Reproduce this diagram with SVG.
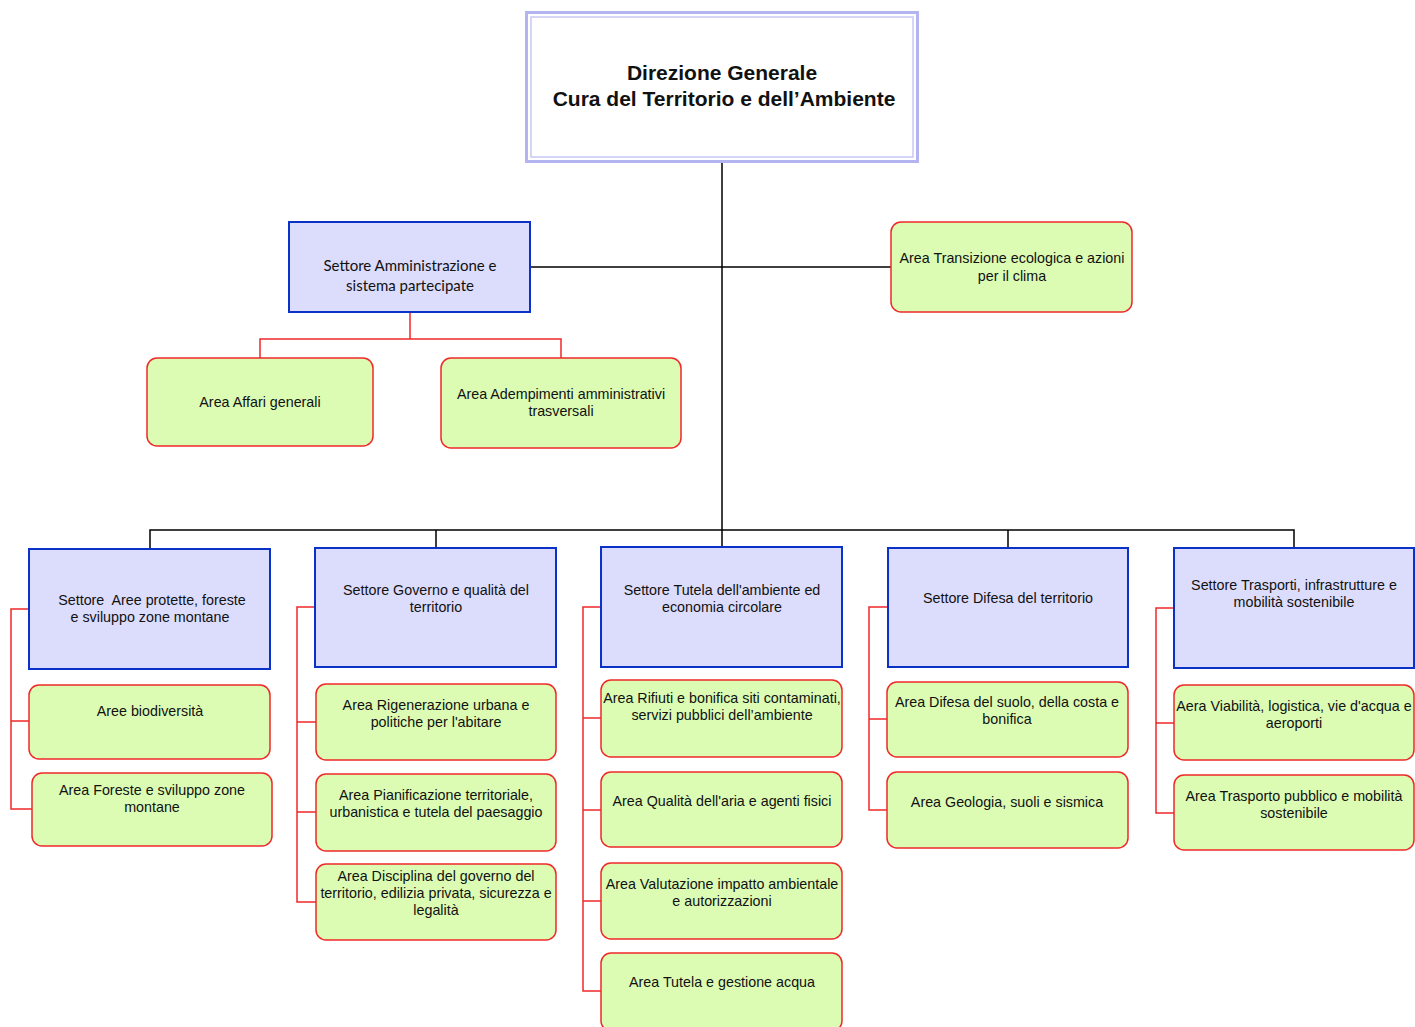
<svg xmlns="http://www.w3.org/2000/svg" width="1415" height="1027" viewBox="0 0 1415 1027">
<style>
text{font-family:"Liberation Sans",Arial,sans-serif;font-size:14.3px;fill:#111;text-anchor:middle}
.t{font-weight:bold;font-size:21px}
.c{font-family:Lato,"Noto Sans",sans-serif;font-size:15px}
.s{fill:#dcdcfc;stroke:#0a32c8;stroke-width:2}
.a{fill:#dcfcb4;stroke:#f02828;stroke-width:1.5}
.k{fill:none;stroke:#000;stroke-width:1.5}
.r{fill:none;stroke:#f02828;stroke-width:1.5}
</style>
<rect width="1415" height="1027" fill="#fff"/>
<g id="connectors">
<path class="k" d="M722 162V530M530 267H891M150 549V530H1294V548M436 530V548M722 530V547M1008 530V548"/>
<path class="r" d="M410 312V339M260 358V339H561V358"/>
<path class="r" d="M29 609H11V809H32M11 721H29"/>
<path class="r" d="M315 607H297V902H316M297 722H316M297 812H316"/>
<path class="r" d="M601 607H583V991H601M583 718H601M583 810H601M583 901H601"/>
<path class="r" d="M888 607H869V810H887M869 719H887"/>
<path class="r" d="M1174 608H1156V813H1174M1156 723H1174"/>
</g>
<g id="n-dg">
<rect x="526.5" y="12.5" width="391" height="149" fill="#fff" stroke="#b4b4f0" stroke-width="3"/>
<rect x="531" y="17" width="382" height="140" fill="none" stroke="#c8c8f6" stroke-width="1.5"/>
<text class="t" x="722" y="80">Direzione Generale</text>
<text class="t" x="724" y="106">Cura del Territorio e dell’Ambiente</text>
</g>
<g id="n-amm"><rect class="s" x="289" y="222" width="241" height="90"/>
<text class="c" x="410" y="271">Settore Amministrazione e</text><text class="c" x="410" y="291">sistema partecipate</text></g>
<g id="n-affari"><rect class="a" x="147" y="358" width="226" height="88" rx="10"/>
<text x="260" y="407">Area Affari generali</text></g>
<g id="n-adempimenti"><rect class="a" x="441" y="358" width="240" height="90" rx="10"/>
<text x="561" y="399">Area Adempimenti amministrativi</text><text x="561" y="416">trasversali</text></g>
<g id="n-transizione"><rect class="a" x="891" y="222" width="241" height="90" rx="10"/>
<text x="1012" y="263">Area Transizione ecologica e azioni</text><text x="1012" y="281">per il clima</text></g>

<g id="n-s1"><rect class="s" x="29" y="549" width="241" height="120"/>
<text x="152" y="605" style="white-space:pre">Settore  Aree protette, foreste</text><text x="150" y="622">e sviluppo zone montane</text></g>
<g id="n-a11"><rect class="a" x="29" y="685" width="241" height="74" rx="10"/>
<text x="150" y="716">Aree biodiversità</text></g>
<g id="n-a12"><rect class="a" x="32" y="773" width="240" height="73" rx="10"/>
<text x="152" y="795">Area Foreste e sviluppo zone</text><text x="152" y="812">montane</text></g>

<g id="n-s2"><rect class="s" x="315" y="548" width="241" height="119"/>
<text x="436" y="595">Settore Governo e qualità del</text><text x="436" y="612">territorio</text></g>
<g id="n-a21"><rect class="a" x="316" y="684" width="240" height="76" rx="10"/>
<text x="436" y="710">Area Rigenerazione urbana e</text><text x="436" y="727">politiche per l'abitare</text></g>
<g id="n-a22"><rect class="a" x="316" y="774" width="240" height="77" rx="10"/>
<text x="436" y="800">Area Pianificazione territoriale,</text><text x="436" y="817">urbanistica e tutela del paesaggio</text></g>
<g id="n-a23"><rect class="a" x="316" y="864" width="240" height="76" rx="10"/>
<text x="436" y="881">Area Disciplina del governo del</text><text x="436" y="898">territorio, edilizia privata, sicurezza e</text><text x="436" y="915">legalità</text></g>

<g id="n-s3"><rect class="s" x="601" y="547" width="241" height="120"/>
<text x="722" y="595">Settore Tutela dell'ambiente ed</text><text x="722" y="612">economia circolare</text></g>
<g id="n-a31"><rect class="a" x="601" y="680" width="241" height="77" rx="10"/>
<text x="722" y="703">Area Rifiuti e bonifica siti contaminati,</text><text x="722" y="720">servizi pubblici dell’ambiente</text></g>
<g id="n-a32"><rect class="a" x="601" y="772" width="241" height="75" rx="10"/>
<text x="722" y="806">Area Qualità dell'aria e agenti fisici</text></g>
<g id="n-a33"><rect class="a" x="601" y="863" width="241" height="76" rx="10"/>
<text x="722" y="889">Area Valutazione impatto ambientale</text><text x="722" y="906">e autorizzazioni</text></g>
<g id="n-a34"><rect class="a" x="601" y="953" width="241" height="78" rx="10"/>
<text x="722" y="987">Area Tutela e gestione acqua</text></g>

<g id="n-s4"><rect class="s" x="888" y="548" width="240" height="119"/>
<text x="1008" y="603">Settore Difesa del territorio</text></g>
<g id="n-a41"><rect class="a" x="887" y="682" width="241" height="75" rx="10"/>
<text x="1007" y="707">Area Difesa del suolo, della costa e</text><text x="1007" y="724">bonifica</text></g>
<g id="n-a42"><rect class="a" x="887" y="772" width="241" height="76" rx="10"/>
<text x="1007" y="807">Area Geologia, suoli e sismica</text></g>

<g id="n-s5"><rect class="s" x="1174" y="548" width="240" height="120"/>
<text x="1294" y="590">Settore Trasporti, infrastrutture e</text><text x="1294" y="607">mobilità sostenibile</text></g>
<g id="n-a51"><rect class="a" x="1174" y="685" width="240" height="75" rx="10"/>
<text x="1294" y="711">Aera Viabilità, logistica, vie d'acqua e</text><text x="1294" y="728">aeroporti</text></g>
<g id="n-a52"><rect class="a" x="1174" y="775" width="240" height="75" rx="10"/>
<text x="1294" y="801">Area Trasporto pubblico e mobilità</text><text x="1294" y="818">sostenibile</text></g>
</svg>
